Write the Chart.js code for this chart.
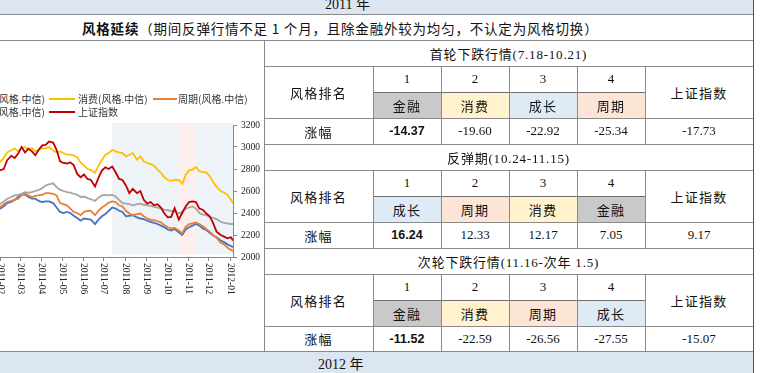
<!DOCTYPE html>
<html>
<head>
<meta charset="utf-8">
<script src="https://cdn.jsdelivr.net/npm/chart.js@4.4.1/dist/chart.umd.min.js"></script>
<style>
html, body { margin: 0; padding: 0; background: #fff; }
#page { position: relative; width: 766px; height: 373px; overflow: hidden;
  font-family: "Liberation Serif", "Noto Sans CJK SC", serif; color: #111; }
.abs { position: absolute; }
.cell { position: absolute; display: flex; align-items: center; justify-content: center;
  white-space: nowrap; font-size: 13px; }
.cn { letter-spacing: 1.2px; }
.band { position: absolute; left: 0; width: 753px; background: #dce6f1; }
#chartBox { position: absolute; left: 0; top: 41px; width: 264px; height: 311px; overflow: hidden; }
#chartBox canvas { position: absolute; left: -10px; top: 74px; }
.lg { position: absolute; font-family: "Noto Sans CJK SC", sans-serif; font-size: 10px; color: #333;
  white-space: nowrap; line-height: 12px; }
.lgline { position: absolute; height: 2px; }
</style>
</head>
<body>
<div id="page">
  <div class="band" style="top:0;height:14px;"></div>
  <div class="abs" style="left:325px;top:-2px;font-size:14px;line-height:14px;">2011 年</div>
  <div class="abs" style="left:82px;top:19px;font-size:13.5px;line-height:18px;letter-spacing:0.8px;white-space:nowrap;font-family:'Noto Sans CJK SC',sans-serif;"><b>风格延续</b>（期间反弹行情不足 1 个月，且除金融外较为均匀，不认定为风格切换）</div>
  <div class="band" style="top:352px;height:21px;"></div>
  <div class="abs" style="left:318px;top:357px;font-size:14px;line-height:16px;">2012 年</div>

  <div id="chartBox">
    <canvas id="c" width="273" height="200"></canvas>
    <div class="lg" style="right:219px;top:52px;">金融(风格.中信)</div>
    <div class="lgline" style="left:49px;top:57px;width:26px;background:#ffc000;"></div>
    <div class="lg" style="left:78px;top:52px;">消费(风格.中信)</div>
    <div class="lgline" style="left:153px;top:57px;width:24px;background:#ed7d31;"></div>
    <div class="lg" style="left:178px;top:52px;">周期(风格.中信)</div>
    <div class="lg" style="right:219px;top:65px;">成长(风格.中信)</div>
    <div class="lgline" style="left:49px;top:70px;width:26px;background:#c00000;"></div>
    <div class="lg" style="left:78px;top:65px;">上证指数</div>
  </div>
  <div id="grid"></div>
</div>

<script>
// trading day sample positions (day of year 2011, 365 = 2012-01-01)
const days = [15, 20, 25, 30, 35, 40, 46, 51, 56, 61,
  66, 71, 76, 81, 86, 91, 96, 101, 107, 112,
  117, 122, 127, 132, 137, 142, 147, 152, 157, 162,
  168, 173, 178, 183, 188, 193, 198, 203, 208, 213,
  218, 223, 229, 234, 239, 244, 249, 254, 259, 264,
  269, 274, 279, 284, 290, 295, 300, 305, 310, 315,
  320, 325, 330, 335, 340, 345, 351, 356, 361, 366, 369];

const shIndex = [2800, 2790, 2780, 2790, 2800, 2880, 2920, 2900, 2940, 3000,
  2950, 2985, 2960, 2925, 2975, 3015, 3020, 3050, 3040, 2975,
  2870, 2855, 2850, 2860, 2835, 2755, 2725, 2750, 2710, 2700,
  2640, 2720, 2785, 2815, 2800, 2822, 2770, 2710, 2700, 2650,
  2580, 2620, 2580, 2600, 2520, 2485, 2500, 2470, 2480, 2450,
  2395, 2360, 2365, 2445, 2340, 2400, 2460, 2500, 2505, 2500,
  2440, 2430, 2395, 2370, 2310, 2230, 2200, 2185, 2170, 2180, 2150];

const consumer = [2850, 2860, 2855, 2865, 2900, 2950, 2970, 2985, 2960, 2990,
  3000, 2975, 2990, 2960, 2975, 2990, 2985, 3000, 2970, 2950,
  2960, 2945, 2930, 2930, 2925, 2905, 2860, 2830, 2800, 2790,
  2765, 2830, 2880, 2930, 2945, 2975, 2960, 2950, 2945, 2915,
  2930, 2945, 2885, 2915, 2870, 2855, 2845, 2830, 2795, 2765,
  2725, 2700, 2692, 2700, 2700, 2665, 2745, 2788, 2795, 2818,
  2780, 2772, 2770, 2735, 2680, 2640, 2600, 2585, 2565, 2520, 2490];

const finance = [2480, 2470, 2490, 2485, 2505, 2530, 2545, 2560, 2565, 2575,
  2590, 2585, 2590, 2600, 2610, 2625, 2650, 2660, 2670, 2635,
  2610, 2600, 2590, 2585, 2575, 2565, 2545, 2550, 2535, 2525,
  2510, 2540, 2560, 2565, 2560, 2565, 2550, 2520, 2490, 2485,
  2480, 2470, 2480, 2485, 2475, 2470, 2465, 2455, 2450, 2440,
  2430, 2425, 2420, 2415, 2395, 2410, 2440, 2450, 2460, 2440,
  2400, 2385, 2380, 2365, 2355, 2345, 2320, 2310, 2305, 2300, 2300];

const cyclical = [2450, 2440, 2455, 2455, 2480, 2500, 2510, 2520, 2530, 2560,
  2580, 2560, 2545, 2555, 2560, 2565, 2580, 2580, 2575, 2560,
  2490, 2480, 2470, 2440, 2410, 2400, 2380, 2410, 2420, 2420,
  2380, 2420, 2450, 2470, 2495, 2505, 2500, 2470, 2460, 2420,
  2395, 2380, 2390, 2395, 2370, 2350, 2340, 2335, 2325, 2315,
  2290, 2270, 2260, 2265, 2240, 2215, 2275, 2300, 2305, 2315,
  2300, 2280, 2255, 2230, 2200, 2175, 2130, 2115, 2085, 2065, 2055];

const growth = [2440, 2430, 2445, 2440, 2460, 2490, 2500, 2520, 2545, 2565,
  2570, 2545, 2530, 2530, 2510, 2500, 2505, 2505, 2490, 2450,
  2410, 2400, 2410, 2400, 2375, 2355, 2330, 2350, 2345, 2340,
  2300, 2340, 2370, 2390, 2420, 2450, 2440, 2420, 2410, 2370,
  2375, 2380, 2360, 2350, 2345, 2330, 2320, 2310, 2300, 2285,
  2270, 2250, 2240, 2255, 2225, 2200, 2250, 2270, 2285, 2300,
  2285, 2260, 2245, 2220, 2195, 2180, 2150, 2135, 2115, 2100, 2090];

const monthTicks = [31, 59, 90, 120, 151, 181, 212, 243, 273, 304, 334, 365];
const monthLabels = ['2011-02', '2011-03', '2011-04', '2011-05', '2011-06', '2011-07',
  '2011-08', '2011-09', '2011-10', '2011-11', '2011-12', '2012-01'];
const yTicks = [2000, 2200, 2400, 2600, 2800, 3000, 3200];

const shadeFrom = [193, 291, 314];
const shadeTo = [291, 314, 369];
const shadeColors = ['#eef3f8', '#fdeeee', '#eef3f8'];

// table contents
const periodTitles = ['首轮下跌行情(7.18-10.21)', '反弹期(10.24-11.15)', '次轮下跌行情(11.16-次年 1.5)'];
const rankNames = [['金融', '消费', '成长', '周期'], ['成长', '周期', '消费', '金融'], ['金融', '消费', '周期', '成长']];
const rankValues = [['-14.37', '-19.60', '-22.92', '-25.34'], ['16.24', '12.33', '12.17', '7.05'], ['-11.52', '-22.59', '-26.56', '-27.55']];
const indexValues = ['-17.73', '9.17', '-15.07'];
const styleFill = { '金融': '#c9c9c9', '消费': '#fff2cc', '成长': '#ddebf7', '周期': '#fce4d6' };

const colX = [264, 373, 441, 509, 577, 645, 753];
const blockLines = [[40, 66, 92, 118, 144], [144, 170, 196, 222, 248], [248, 274, 300, 326, 351]];
const lineColor = '#8a8a8a';

const grid = document.getElementById('grid');
function box(x1, y1, x2, y2, text, css) {
  const d = document.createElement('div');
  d.className = 'cell';
  d.style.left = x1 + 'px'; d.style.top = y1 + 'px';
  d.style.width = (x2 - x1) + 'px'; d.style.height = (y2 - y1) + 'px';
  if (css) Object.assign(d.style, css);
  d.textContent = text;
  grid.appendChild(d);
  return d;
}
function hline(x1, x2, y, c) {
  box(x1, y, x2, y + 1, '', { background: c || lineColor });
}
function vline(x, y1, y2, c) {
  box(x, y1, x + 1, y2, '', { background: c || lineColor });
}

hline(0, 753, 14);
hline(0, 753, 40);
vline(264, 40, 352);
blockLines.forEach((L, b) => {
  box(colX[0], L[0], colX[6], L[1], periodTitles[b], { letterSpacing: '0.8px' });
  box(colX[0], L[1], colX[1], L[3], '风格排名').classList.add('cn');
  box(colX[5], L[1], colX[6], L[3], '上证指数').classList.add('cn');
  box(colX[0], L[3], colX[1], L[4], '涨幅').classList.add('cn');
  for (let i = 0; i < 4; i++) {
    box(colX[i + 1], L[1], colX[i + 2], L[2], String(i + 1));
    const n = rankNames[b][i];
    box(colX[i + 1], L[2], colX[i + 2], L[3], n, { background: styleFill[n] }).classList.add('cn');
    const css = i === 0 ? { fontWeight: 'bold', fontFamily: '"Liberation Sans", sans-serif', fontSize: '12.5px' } : null;
    box(colX[i + 1], L[3], colX[i + 2], L[4], rankValues[b][i], css);
  }
  box(colX[5], L[3], colX[6], L[4], indexValues[b]);
  hline(colX[0], colX[6], L[0]);
  hline(colX[0], colX[6], L[1]);
  hline(colX[1], colX[5], L[2], '#6f6f6f');
  hline(colX[0], colX[6], L[3]);
  hline(colX[0], colX[6], L[4]);
  for (let i = 1; i <= 5; i++) vline(colX[i], L[1], L[4]);
});
hline(0, 753, 351);
vline(753, 0, 373, '#555');

const shadePlugin = {
  id: 'shade',
  beforeDraw(chart) {
    const { ctx, scales: { x, y } } = chart;
    const top = y.getPixelForValue(3220);
    const bottom = y.getPixelForValue(2025);
    ctx.save();
    shadeFrom.forEach((s, i) => {
      const x1 = x.getPixelForValue(s);
      const x2 = x.getPixelForValue(shadeTo[i]);
      ctx.fillStyle = shadeColors[i];
      ctx.fillRect(x1, top, x2 - x1, bottom - top);
    });
    ctx.restore();
  }
};

const monthLabelPlugin = {
  id: 'monthLabels',
  afterDraw(chart) {
    const { ctx, scales: { x }, chartArea } = chart;
    ctx.save();
    ctx.font = '9.5px "Liberation Serif"';
    ctx.fillStyle = '#222';
    ctx.textAlign = 'left';
    ctx.textBaseline = 'middle';
    monthTicks.forEach((d, i) => {
      ctx.save();
      ctx.translate(x.getPixelForValue(d), chartArea.bottom + 6);
      ctx.rotate(Math.PI / 2);
      ctx.fillText(monthLabels[i], 0, 0);
      ctx.restore();
    });
    ctx.restore();
  }
};

function series(label, vals, color, order) {
  return {
    label: label,
    data: days.map((d, i) => ({ x: d, y: vals[i] })),
    borderColor: color,
    borderWidth: 1.8,
    pointRadius: 0,
    tension: 0,
    order: order
  };
}

new Chart(document.getElementById('c'), {
  type: 'line',
  data: {
    datasets: [
      series('成长(风格.中信)', growth, '#4472c4', 5),
      series('周期(风格.中信)', cyclical, '#ed7d31', 4),
      series('金融(风格.中信)', finance, '#a5a5a5', 3),
      series('消费(风格.中信)', consumer, '#ffc000', 2),
      series('上证指数', shIndex, '#c00000', 1)
    ]
  },
  options: {
    responsive: false,
    animation: false,
    layout: { padding: { top: 10, left: 0, right: 0, bottom: 0 }, autoPadding: false },
    plugins: { legend: { display: false }, tooltip: { enabled: false } },
    scales: {
      x: {
        type: 'linear',
        min: 15,
        max: 369,
        grid: { drawOnChartArea: false, tickLength: 4, color: '#888' },
        border: { color: '#888' },
        ticks: { display: false },
        afterBuildTicks(scale) { scale.ticks = monthTicks.map(v => ({ value: v })); },
        afterFit(scale) { scale.height = 58; }
      },
      y: {
        position: 'right',
        min: 2000,
        max: 3200,
        grid: { drawOnChartArea: false, tickLength: 4, color: '#888' },
        border: { color: '#888' },
        ticks: {
          padding: 4,
          color: '#222',
          font: { family: 'Liberation Serif', size: 9.5 },
          callback: v => String(v)
        },
        afterBuildTicks(scale) { scale.ticks = yTicks.map(v => ({ value: v })); },
        afterFit(scale) { scale.width = 30; }
      }
    }
  },
  plugins: [shadePlugin, monthLabelPlugin]
});
</script>
</body>
</html>
